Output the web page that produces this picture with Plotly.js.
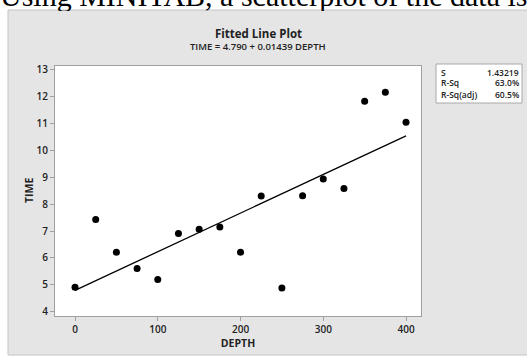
<!DOCTYPE html>
<html>
<head>
<meta charset="utf-8">
<script src="https://cdn.plot.ly/plotly-3.0.1.min.js"></script>
<style>
html,body{margin:0;padding:0;background:#fff;overflow:hidden;}
#chart{width:527px;height:356px;}
</style>
</head>
<body>
<div id="chart"></div>
<script>
// Data
var depth = [0, 25, 50, 75, 100, 125, 150, 175, 200, 225, 250, 275, 300, 325, 350, 375, 400];
var time  = [4.91, 7.43, 6.21, 5.60, 5.19, 6.91, 7.07, 7.15, 6.21, 8.30, 4.88, 8.31, 8.94, 8.58, 11.83, 12.17, 11.05];
var intercept = 4.790;
var slope = 0.01439;
var statLabels = ["S", "R-Sq", "R-Sq(adj)"];
var statValues = ["1.43219", "63.0%", "60.5%"];
var xTicks = [0, 100, 200, 300, 400];
var yTicks = [4, 5, 6, 7, 8, 9, 10, 11, 12, 13];

var W = 527, H = 356;
var M = {l: 55, r: 106, t: 66, b: 40};
var pw = W - M.l - M.r, ph = H - M.t - M.b;
function px(x) { return (x - M.l) / pw; }
function py(y) { return (H - M.b - y) / ph; }

var xMin = Math.min.apply(null, depth), xMax = Math.max.apply(null, depth);
var fitX = [xMin, xMax];
var fitY = fitX.map(function (d) { return intercept + slope * d; });

var font = "'Open Sans', 'Noto Sans', 'DejaVu Sans', sans-serif";

var traces = [
  {x: fitX, y: fitY, mode: 'lines', line: {color: '#000', width: 1.3}, hoverinfo: 'skip', showlegend: false},
  {x: depth, y: time, mode: 'markers', marker: {color: '#000', size: 7}, showlegend: false}
];

var annotations = [
  {text: 'Using MINITAB, a scatterplot of the data is', xref: 'paper', yref: 'paper', x: px(-1), y: py(6),
   xanchor: 'left', yanchor: 'bottom', showarrow: false, borderpad: 0, yshift: -7,
   font: {family: "'Liberation Serif', 'Times New Roman', serif", size: 30, color: '#000'}},
  // strip of the panel laid over the descenders of the cut-off sentence
  {text: ' ', xref: 'paper', yref: 'paper', x: px(8.5), y: py(10.5), xanchor: 'left', yanchor: 'top',
   showarrow: false, width: 520, height: 10, borderpad: 0, bgcolor: '#e5e5e5', borderwidth: 0},
  {text: 'Fitted Line Plot', xref: 'paper', yref: 'paper', x: px(258), y: py(33), xanchor: 'center', yanchor: 'middle',
   showarrow: false, font: {family: font, size: 11.5, color: '#222', weight: 700}},
  {text: 'TIME = 4.790 + 0.01439 DEPTH', xref: 'paper', yref: 'paper', x: px(258), y: py(47), xanchor: 'center', yanchor: 'middle',
   showarrow: false, font: {family: font, size: 9.5, color: '#222', weight: 600}},
  {text: 'TIME', xref: 'paper', yref: 'paper', x: px(29), y: 0.5, xanchor: 'center', yanchor: 'middle', textangle: -90,
   showarrow: false, font: {family: font, size: 10.5, color: '#222', weight: 700}}
];
var rowY = [72, 83, 94];
for (var i = 0; i < statLabels.length; i++) {
  annotations.push({text: statLabels[i], xref: 'paper', yref: 'paper', x: px(439), y: py(rowY[i]), xanchor: 'left', yanchor: 'middle',
    showarrow: false, font: {family: font, size: 8.5, color: '#222', weight: 600}});
  annotations.push({text: statValues[i], xref: 'paper', yref: 'paper', x: px(520.5), y: py(rowY[i]), xanchor: 'right', yanchor: 'middle',
    showarrow: false, font: {family: font, size: 8.5, color: '#222', weight: 600}});
}

var shapes = [
  {type: 'rect', xref: 'paper', yref: 'paper', layer: 'below', x0: px(8), x1: px(540), y0: py(355), y1: py(10),
   fillcolor: '#e5e5e5', line: {color: '#c4c4c4', width: 1}},
  {type: 'rect', xref: 'paper', yref: 'paper', layer: 'below', x0: 0, x1: 1, y0: 0, y1: 1,
   fillcolor: '#ffffff', line: {width: 0}},
  {type: 'rect', xref: 'paper', yref: 'paper', layer: 'below', x0: px(436), x1: px(522), y0: py(103), y1: py(64),
   fillcolor: '#ffffff', line: {color: '#a8a8a8', width: 1}}
];

var layout = {
  width: W, height: H,
  margin: M,
  paper_bgcolor: '#ffffff',
  plot_bgcolor: '#ffffff',
  font: {family: font, color: '#222'},
  xaxis: {
    range: [-24.2, 418.1], tickvals: xTicks, ticktext: xTicks.map(String),
    showgrid: false, zeroline: false, showline: true, mirror: true, linecolor: '#a0a0a0', linewidth: 1,
    ticks: 'outside', ticklen: 4, tickcolor: '#a0a0a0', tickfont: {size: 10, color: '#222', weight: 600},
    title: {text: 'DEPTH', font: {size: 10.5, color: '#222', weight: 700}, standoff: 4}
  },
  yaxis: {
    range: [3.835, 13.145], tickvals: yTicks, ticktext: yTicks.map(String),
    showgrid: false, zeroline: false, showline: true, mirror: true, linecolor: '#a0a0a0', linewidth: 1,
    ticks: 'outside', ticklen: 4, tickcolor: '#a0a0a0', tickfont: {size: 10, color: '#222', weight: 600}
  },
  annotations: annotations,
  shapes: shapes,
  showlegend: false
};

Plotly.newPlot('chart', traces, layout, {staticPlot: true, displayModeBar: false});
</script>
</body>
</html>
